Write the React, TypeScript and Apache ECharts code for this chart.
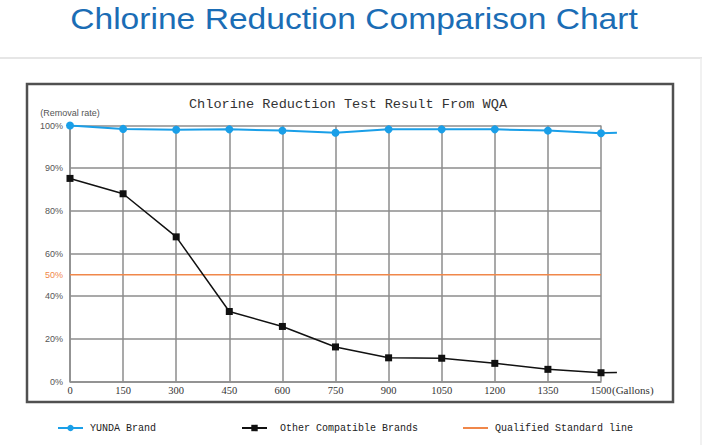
import React, { useEffect, useRef } from "react";
import * as echarts from "echarts";

// ---- data ----
const gallons = [0, 150, 300, 450, 600, 750, 900, 1050, 1200, 1350, 1500];
const yundaRate = [100, 99.2, 99.0, 99.1, 98.8, 98.3, 99.1, 99.1, 99.1, 98.8, 98.2];
const otherRate = [87.6, 84.0, 67.8, 32.8, 25.8, 16.2, 11.1, 10.9, 8.5, 5.7, 4.1];
const tailGallons = 1545;
const yundaTail = 98.3;
const otherTail = 4.2;
const standardRate = 50;
const yTickPercents = [0, 20, 40, 60, 80, 90, 100];

const seriesNames = ["YUNDA Brand", "Other Compatible Brands", "Qualified Standard line"];

// piecewise scale: the chart's y ticks are evenly spaced but not linear in %
function toAxis(p: number): number {
  for (let i = 0; i < yTickPercents.length - 1; i++) {
    const a = yTickPercents[i];
    const b = yTickPercents[i + 1];
    if (p <= b) return i + (p - a) / (b - a);
  }
  return yTickPercents.length - 1;
}

const MONO = "'Liberation Mono', 'DejaVu Sans Mono', monospace";
const SERIF = "'Liberation Serif', 'DejaVu Serif', serif";
const SANS = "'Liberation Sans', Arial, sans-serif";

const W = 702;
const GRID_LEFT = 70;
const GRID_RIGHT = 101;
const GRID_TOP = 125.5;
const GRID_BOTTOM = 63.5;

export default function App() {
  const ref = useRef<HTMLDivElement>(null);
  useEffect(() => {
    if (!ref.current) return;
    const chart = echarts.init(ref.current, null, { renderer: "svg" });
    const gridColor = "#8c8c8c";
    const xMax = gallons[gallons.length - 1];
    const plotW = W - GRID_LEFT - GRID_RIGHT;
    const dataGridRight = W - GRID_LEFT - (plotW * tailGallons) / xMax;

    const yundaData: any[] = gallons.map((g, i) => [g, toAxis(yundaRate[i])]);
    yundaData.push({ value: [tailGallons, toAxis(yundaTail)], symbol: "none" });
    const otherData: any[] = gallons.map((g, i) => [g, toAxis(otherRate[i])]);
    otherData.push({ value: [tailGallons, toAxis(otherTail)], symbol: "none" });
    const stdData: any[] = [
      {
        value: [gallons[0], toAxis(standardRate)],
        label: {
          show: true,
          position: "left",
          distance: 7,
          formatter: standardRate + "%",
          color: "#f0874a",
          fontFamily: SANS,
          fontSize: 9,
        },
      },
      [xMax, toAxis(standardRate)],
    ];

    const legendCommon = {
      top: 423,
      padding: 0,
      itemWidth: 25,
      itemHeight: 8,
    };
    const legendText = (padLeft: number) => ({
      fontFamily: MONO,
      fontSize: 10,
      color: "#222",
      padding: [0, 0, 0, padLeft],
    });

    chart.setOption({
      animation: false,
      backgroundColor: "#ffffff",
      graphic: [
        {
          type: "text",
          x: 354,
          y: 19,
          scaleX: 1.12,
          style: {
            text: "Chlorine Reduction Comparison Chart",
            font: "30px 'Liberation Sans', Arial, sans-serif",
            fill: "#1b6db5",
            textAlign: "center",
            textVerticalAlign: "middle",
          },
        },
        {
          type: "line",
          shape: { x1: 0, y1: 58, x2: 702, y2: 58 },
          style: { stroke: "#e6e6e6", lineWidth: 2 },
        },
        {
          type: "line",
          shape: { x1: 701, y1: 58, x2: 701, y2: 445 },
          style: { stroke: "#ececec", lineWidth: 1.5 },
        },
        {
          type: "rect",
          shape: { x: 27, y: 84, width: 646, height: 318 },
          style: { stroke: "#505050", lineWidth: 2.5, fill: "none" },
        },
        {
          type: "text",
          x: 348,
          y: 104,
          style: {
            text: "Chlorine Reduction Test Result From WQA",
            font: "13.6px 'Liberation Mono', monospace",
            fill: "#333",
            textAlign: "center",
            textVerticalAlign: "middle",
          },
        },
      ],
      legend: [
        { ...legendCommon, left: 57, data: [seriesNames[0]], textStyle: legendText(2) },
        { ...legendCommon, left: 241, data: [seriesNames[1]], textStyle: legendText(8) },
        {
          ...legendCommon,
          left: 463,
          itemHeight: 2,
          data: [{ name: seriesNames[2], icon: "rect" }],
          textStyle: legendText(2),
        },
      ],
      grid: [
        { left: GRID_LEFT, right: GRID_RIGHT, top: GRID_TOP, bottom: GRID_BOTTOM },
        { left: GRID_LEFT, right: dataGridRight, top: GRID_TOP, bottom: GRID_BOTTOM },
      ],
      xAxis: [
        {
          type: "value",
          gridIndex: 0,
          min: 0,
          max: xMax,
          interval: 150,
          name: "(Gallons)",
          nameLocation: "end",
          nameGap: 11,
          nameMoveOverlap: false,
          nameTextStyle: {
            fontFamily: SERIF,
            fontSize: 11,
            color: "#333",
            verticalAlign: "top",
            padding: [3, 0, 0, 0],
          },
          axisLine: { show: true, lineStyle: { color: gridColor, width: 1.5 } },
          axisTick: { show: false },
          axisLabel: {
            margin: 3,
            fontFamily: SERIF,
            fontSize: 10.5,
            color: "#333",
            formatter: (v: number) => String(v),
          },
          splitLine: { show: true, lineStyle: { color: gridColor, width: 1.5 } },
        },
        { type: "value", gridIndex: 1, min: 0, max: tailGallons, show: false },
      ],
      yAxis: [
        {
          type: "value",
          gridIndex: 0,
          min: 0,
          max: yTickPercents.length - 1,
          interval: 1,
          name: "(Removal rate)",
          nameLocation: "end",
          nameGap: 8,
          nameTextStyle: { fontFamily: SANS, fontSize: 9, color: "#555" },
          axisLine: { show: true, lineStyle: { color: gridColor, width: 1.5 } },
          axisTick: { show: false },
          axisLabel: {
            margin: 7,
            fontFamily: SANS,
            fontSize: 9,
            color: "#555",
            formatter: (v: number) => yTickPercents[Math.round(v)] + "%",
          },
          splitLine: { show: true, lineStyle: { color: gridColor, width: 1.5 } },
        },
        { type: "value", gridIndex: 1, min: 0, max: yTickPercents.length - 1, show: false },
      ],
      series: [
        {
          name: seriesNames[0],
          type: "line",
          xAxisIndex: 1,
          yAxisIndex: 1,
          data: yundaData,
          symbol: "circle",
          symbolSize: 8,
          color: "#1a9fe8",
          lineStyle: { width: 2, color: "#1a9fe8" },
          itemStyle: { color: "#1a9fe8" },
          z: 4,
        },
        {
          name: seriesNames[1],
          type: "line",
          xAxisIndex: 1,
          yAxisIndex: 1,
          data: otherData,
          symbol: "rect",
          symbolSize: 7,
          color: "#111",
          lineStyle: { width: 1.5, color: "#111" },
          itemStyle: { color: "#111" },
          z: 4,
        },
        {
          name: seriesNames[2],
          type: "line",
          xAxisIndex: 1,
          yAxisIndex: 1,
          data: stdData,
          symbol: "circle",
          symbolSize: 0,
          color: "#f0874a",
          lineStyle: { width: 1.5, color: "#f0874a" },
          itemStyle: { color: "#f0874a" },
          z: 3,
        },
      ],
    });
    return () => chart.dispose();
  }, []);
  return (
    <div
      ref={ref}
      style={{ position: "fixed", left: 0, top: 0, width: 702, height: 445, background: "#fff" }}
    />
  );
}
